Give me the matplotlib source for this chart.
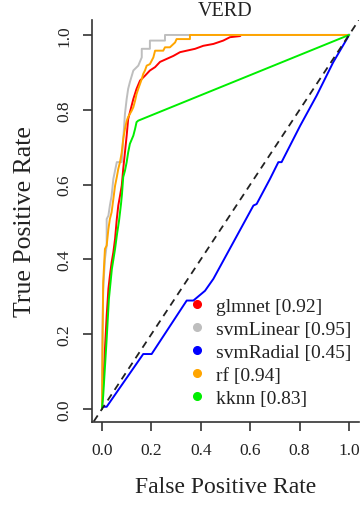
import matplotlib
matplotlib.use("Agg")
import matplotlib.pyplot as plt
from matplotlib.lines import Line2D

# datos (curvas ROC)
modelos = ["glmnet", "svmLinear", "svmRadial", "rf", "kknn"]
auc = [0.92, 0.95, 0.45, 0.94, 0.83]
colores = ["#ff0000", "#bebebe", "#0000ff", "#ffa500", "#00ee00"]

glmnet_fpr = [0.0, 0.006, 0.012, 0.019, 0.026, 0.032, 0.039, 0.046, 0.053, 0.060, 0.066,
              0.073, 0.080, 0.086, 0.093, 0.100, 0.106, 0.113, 0.127, 0.140, 0.154, 0.174,
              0.194, 0.215, 0.235, 0.262, 0.289, 0.316, 0.343, 0.377, 0.410, 0.451, 0.491,
              0.518, 0.559, 0.563, 1.0]
glmnet_tpr = [0.0, 0.080, 0.160, 0.249, 0.321, 0.356, 0.392, 0.419, 0.455, 0.508, 0.544,
              0.570, 0.597, 0.642, 0.686, 0.731, 0.775, 0.793, 0.829, 0.856, 0.878, 0.891,
              0.905, 0.914, 0.928, 0.936, 0.944, 0.954, 0.958, 0.963, 0.971, 0.976, 0.985,
              0.994, 0.997, 1.0, 1.0]

svmLinear_fpr = [0.0, 0.002, 0.005, 0.012, 0.019, 0.019, 0.026, 0.032, 0.039, 0.046, 0.060,
                 0.080, 0.086, 0.093, 0.100, 0.106, 0.113, 0.127, 0.147, 0.161, 0.161, 0.194,
                 0.194, 0.255, 0.255, 1.0]
svmLinear_tpr = [0.0, 0.214, 0.321, 0.401, 0.437, 0.508, 0.517, 0.544, 0.570, 0.615, 0.660,
                 0.660, 0.722, 0.789, 0.829, 0.856, 0.874, 0.905, 0.918, 0.940, 0.963, 0.963,
                 0.985, 0.985, 1.0, 1.0]

svmRadial_fpr = [0.0, 0.019, 0.167, 0.201, 0.343, 0.370, 0.417, 0.451, 0.613, 0.626, 0.680,
                 0.714, 0.727, 0.802, 0.869, 0.936, 0.991, 1.0]
svmRadial_tpr = [0.006, 0.006, 0.147, 0.147, 0.290, 0.290, 0.316, 0.348, 0.544, 0.548, 0.615,
                 0.660, 0.660, 0.757, 0.838, 0.927, 0.989, 1.0]

rf_fpr = [0.0, 0.002, 0.005, 0.012, 0.019, 0.026, 0.032, 0.039, 0.046, 0.053, 0.060, 0.066,
          0.073, 0.080, 0.086, 0.093, 0.100, 0.106, 0.113, 0.120, 0.127, 0.134, 0.140, 0.147,
          0.154, 0.161, 0.167, 0.174, 0.181, 0.194, 0.208, 0.215, 0.248, 0.255, 0.275, 0.296,
          0.302, 0.356, 0.356, 1.0]
rf_tpr = [0.0, 0.160, 0.339, 0.428, 0.437, 0.481, 0.508, 0.526, 0.561, 0.597, 0.620, 0.642,
          0.660, 0.686, 0.722, 0.749, 0.770, 0.781, 0.789, 0.797, 0.807, 0.824, 0.842, 0.856,
          0.869, 0.882, 0.896, 0.905, 0.918, 0.922, 0.940, 0.958, 0.958, 0.967, 0.967, 0.980,
          0.989, 0.989, 1.0, 1.0]

kknn_fpr = [0.0, 0.005, 0.019, 0.028, 0.040, 0.053, 0.061, 0.069, 0.077, 0.081, 0.086, 0.093,
            0.100, 0.106, 0.113, 0.127, 0.134, 0.140, 0.147, 1.0]
kknn_tpr = [0.0, 0.036, 0.187, 0.294, 0.374, 0.428, 0.468, 0.503, 0.548, 0.575, 0.620, 0.637,
            0.660, 0.686, 0.709, 0.731, 0.749, 0.767, 0.771, 1.0]

curvas = [(glmnet_fpr, glmnet_tpr), (svmLinear_fpr, svmLinear_tpr),
          (svmRadial_fpr, svmRadial_tpr), (rf_fpr, rf_tpr), (kknn_fpr, kknn_tpr)]

ticks = [0.0, 0.2, 0.4, 0.6, 0.8, 1.0]
etiquetas = ["0.0", "0.2", "0.4", "0.6", "0.8", "1.0"]

plt.rcParams["font.family"] = ["Liberation Serif", "DejaVu Serif"]

fig = plt.figure(figsize=(3.64, 5.06), dpi=100)
ax = fig.add_axes([0.253, 0.165, 0.733, 0.7935])

for (fx, ty), c in zip(curvas, colores):
    ax.plot(fx, ty, color=c, lw=1.4)

# diagonal de referencia
ax.axline((0, 0), slope=1, color="#222222", lw=1.3, ls=(0, (4, 3)))

ax.set_xlim(-0.04, 1.04)
ax.set_ylim(-0.0334, 1.040)

ax.spines["top"].set_visible(False)
ax.spines["right"].set_visible(False)
for s in ["left", "bottom"]:
    ax.spines[s].set_color("#333333")
    ax.spines[s].set_linewidth(1.2)

ax.set_xticks(ticks)
ax.set_xticklabels(etiquetas)
ax.set_yticks(ticks)
ax.set_yticklabels(etiquetas, rotation=90, va="center")
ax.tick_params(axis="both", length=6.5, width=1.2, color="#333333", labelsize=12.5,
               labelcolor="#222222")
ax.tick_params(axis="x", pad=8)
ax.tick_params(axis="y", pad=7.5)

ax.set_xlabel("False Positive Rate", fontsize=17, va="center", color="#222222")
ax.xaxis.set_label_coords(0.5, -0.163)
ax.set_ylabel("True Positive Rate", fontsize=18.5, va="center", ha="center", color="#222222")
ax.yaxis.set_label_coords(-0.2515, 0.5)

ax.set_title("VERD", fontsize=14.5, pad=-3.5, color="#222222")

handles = [Line2D([], [], ls="none", marker="o", markersize=5.5, color=c) for c in colores]
nombres = [f"{m} [{a:.2f}]" for m, a in zip(modelos, auc)]
ax.legend(handles, nombres, loc="upper left", bbox_to_anchor=(0.357, 0.31),
          frameon=False, fontsize=14, handlelength=1.0, handletextpad=0.45,
          labelspacing=0.28, borderpad=0, borderaxespad=0, labelcolor="#222222")

fig.savefig("out.png", dpi=100)
